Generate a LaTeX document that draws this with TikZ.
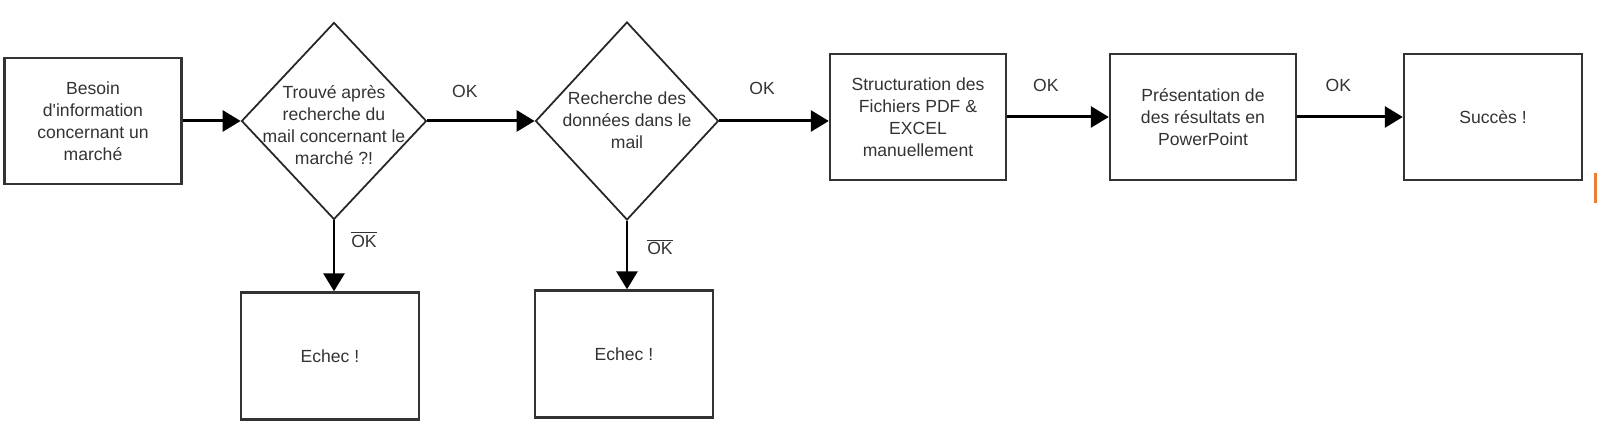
\documentclass[tikz,border=0pt]{standalone}
\usepackage{fontspec}
\setmainfont{Liberation Sans}
\usetikzlibrary{shapes.geometric,arrows.meta}
\definecolor{boxgray}{HTML}{333333}
\definecolor{slideorange}{HTML}{ED7D31}
\tikzset{
  stage/.style={draw=boxgray, line width=1.35pt, minimum width=3.54cm, minimum height=2.52cm, align=center, inner sep=2pt},
  decision/.style={diamond, draw=black!85, line width=1pt, minimum width=3.7cm, minimum height=3.94cm, inner sep=0pt},
  flow/.style={-{Triangle[length=0.36cm,width=0.42cm]}, line width=1.7pt},
  cond/.style={text=boxgray}
}
\begin{document}
\begin{tikzpicture}[font=\fontsize{10}{12.5}\selectfont, text=boxgray]
    \useasboundingbox (0,0) rectangle (31.94,8.9);

    % Draw the top row
    \node[stage] (need) at (1.86,6.48) {Besoin\\d\textquotesingle information\\concernant un\\marché};
    \node[decision] (found) at (6.68,6.48) {};
    \node[align=center] (foundtxt) at (6.68,6.40) {Trouvé après\\recherche du\\mail concernant le\\marché ?!};
    \node[decision, minimum width=3.66cm, minimum height=3.96cm] (search) at (12.54,6.48) {};
    \node[align=center] (searchtxt) at (12.54,6.50) {Recherche des\\données dans le\\mail};
    \node[stage, minimum width=3.52cm] (struct) at (18.36,6.56) {Structuration des\\Fichiers PDF \&\\EXCEL\\manuellement};
    \node[stage, minimum width=3.72cm] (present) at (24.06,6.56) {Présentation de\\des résultats en\\PowerPoint};
    \node[stage, minimum width=3.56cm] (success) at (29.86,6.56) {Succès !};

    % Draw the failure boxes
    \node[stage, minimum width=3.56cm, minimum height=2.54cm] (fail1) at (6.60,1.78) {Echec !};
    \node[stage, minimum width=3.56cm, minimum height=2.54cm] (fail2) at (12.48,1.82) {Echec !};

    % Draw the arrows
    \draw[flow] (need) -- (found);
    \draw[flow] (found) -- node[cond, pos=0.35, yshift=0.6cm] {OK} (search);
    \draw[flow] (search.east) -- node[cond, pos=0.39, yshift=0.66cm] {OK} (search.east -| struct.west);
    \draw[flow] (struct) -- node[cond, pos=0.38, yshift=0.64cm] {OK} (present);
    \draw[flow] (present) -- node[cond, pos=0.39, yshift=0.64cm] {OK} (success);
    \draw[flow] (found.south) -- node[cond, pos=0.27, xshift=0.6cm] {$\overline{\mbox{OK}}$} (found.south |- fail1.north);
    \draw[flow] (search.south) -- node[cond, pos=0.38, xshift=0.66cm] {$\overline{\mbox{OK}}$} (search.south |- fail2.north);

    % Draw the orange mark at the edge
    \fill[slideorange] (31.88,4.84) rectangle (31.94,5.44);

\end{tikzpicture}
\end{document}
